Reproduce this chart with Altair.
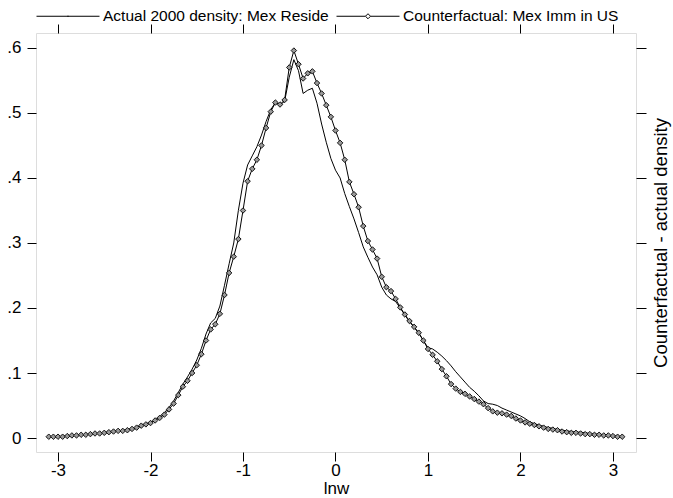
import altair as alt
import pandas as pd

# ---------------- data ----------------
lnw_grid = [
    -3.10, -3.05, -3.00, -2.95, -2.90, -2.85, -2.80, -2.75, -2.70, -2.65,
    -2.60, -2.55, -2.50, -2.45, -2.40, -2.35, -2.30, -2.25, -2.20, -2.15,
    -2.10, -2.05, -2.00, -1.95, -1.90, -1.85, -1.80, -1.75, -1.70, -1.65,
    -1.60, -1.55, -1.50, -1.45, -1.40, -1.35, -1.30, -1.25, -1.20, -1.15,
    -1.10, -1.05, -1.00, -0.95, -0.90, -0.85, -0.80, -0.75, -0.70, -0.65,
    -0.60, -0.55, -0.50, -0.45, -0.40, -0.35, -0.30, -0.25, -0.20, -0.15,
    -0.10, -0.05, 0.00, 0.05, 0.10, 0.15, 0.20, 0.25, 0.30, 0.35,
    0.40, 0.45, 0.50, 0.55, 0.60, 0.65, 0.70, 0.75, 0.80, 0.85,
    0.90, 0.95, 1.00, 1.05, 1.10, 1.15, 1.20, 1.25, 1.30, 1.35,
    1.40, 1.45, 1.50, 1.55, 1.60, 1.65, 1.70, 1.75, 1.80, 1.85,
    1.90, 1.95, 2.00, 2.05, 2.10, 2.15, 2.20, 2.25, 2.30, 2.35,
    2.40, 2.45, 2.50, 2.55, 2.60, 2.65, 2.70, 2.75, 2.80, 2.85,
    2.90, 2.95, 3.00, 3.05, 3.10,
]

actual_density = [
    0.002, 0.002, 0.002, 0.003, 0.003, 0.004, 0.004, 0.005, 0.005, 0.006,
    0.007, 0.007, 0.008, 0.009, 0.010, 0.011, 0.012, 0.013, 0.014, 0.016,
    0.019, 0.022, 0.024, 0.028, 0.033, 0.039, 0.047, 0.057, 0.070, 0.083,
    0.094, 0.106, 0.120, 0.138, 0.160, 0.177, 0.184, 0.203, 0.235, 0.268,
    0.300, 0.350, 0.392, 0.420, 0.434, 0.448, 0.466, 0.487, 0.505, 0.516,
    0.512, 0.518, 0.555, 0.582, 0.565, 0.530, 0.535, 0.538, 0.515, 0.483,
    0.455, 0.430, 0.412, 0.400, 0.376, 0.356, 0.337, 0.316, 0.294, 0.278,
    0.263, 0.251, 0.232, 0.220, 0.214, 0.210, 0.200, 0.189, 0.179, 0.170,
    0.161, 0.150, 0.139, 0.137, 0.132, 0.126, 0.119, 0.111, 0.102, 0.094,
    0.086, 0.078, 0.072, 0.065, 0.057, 0.053, 0.052, 0.050, 0.046, 0.043,
    0.040, 0.037, 0.034, 0.030, 0.025, 0.022, 0.020, 0.018, 0.016, 0.015,
    0.013, 0.012, 0.011, 0.010, 0.009, 0.009, 0.008, 0.007, 0.006, 0.006,
    0.005, 0.004, 0.003, 0.003, 0.002,
]

counterfactual_density = [
    0.002, 0.002, 0.002, 0.002, 0.003, 0.004, 0.004, 0.005, 0.005, 0.006,
    0.007, 0.007, 0.008, 0.009, 0.010, 0.011, 0.011, 0.012, 0.014, 0.016,
    0.019, 0.021, 0.023, 0.027, 0.031, 0.036, 0.044, 0.053, 0.066, 0.079,
    0.088, 0.100, 0.112, 0.129, 0.150, 0.167, 0.175, 0.191, 0.220, 0.254,
    0.279, 0.306, 0.350, 0.395, 0.414, 0.428, 0.450, 0.477, 0.502, 0.516,
    0.513, 0.520, 0.570, 0.596, 0.575, 0.553, 0.561, 0.564, 0.546, 0.530,
    0.512, 0.494, 0.473, 0.454, 0.428, 0.394, 0.375, 0.355, 0.326, 0.303,
    0.290, 0.276, 0.248, 0.232, 0.226, 0.214, 0.201, 0.190, 0.180, 0.171,
    0.162, 0.150, 0.137, 0.128, 0.118, 0.106, 0.095, 0.083, 0.076, 0.071,
    0.068, 0.064, 0.060, 0.056, 0.052, 0.046, 0.041, 0.039, 0.038, 0.036,
    0.034, 0.030, 0.027, 0.024, 0.022, 0.020, 0.018, 0.016, 0.014, 0.013,
    0.012, 0.010, 0.009, 0.008, 0.008, 0.007, 0.006, 0.006, 0.005, 0.005,
    0.004, 0.004, 0.003, 0.002, 0.002,
]

series_names = ["Actual 2000 density: Mex Reside", "Counterfactual: Mex Imm in US"]
x_ticks = [-3, -2, -1, 0, 1, 2, 3]
y_ticks = [0, 0.1, 0.2, 0.3, 0.4, 0.5, 0.6]

n = len(lnw_grid)
df = pd.DataFrame({
    "lnw": lnw_grid + lnw_grid,
    "density": actual_density + counterfactual_density,
    "series": [series_names[0]] * n + [series_names[1]] * n,
})
cf_df = pd.DataFrame({"lnw": lnw_grid, "density": counterfactual_density})

FONT = "Liberation Sans"
xs = alt.Scale(domain=[-3.238, 3.249], nice=False, zero=False)
ys = alt.Scale(domain=[-0.0215, 0.623], nice=False, zero=False)

# ---------------- layers ----------------
lines = alt.Chart(df).mark_line(color="black", strokeWidth=1).encode(
    x=alt.X("lnw:Q", scale=xs, axis=alt.Axis(
        orient="bottom", values=x_ticks, labelExpr="toString(datum.value)",
        tickSize=9, domain=False, grid=False, labelPadding=1,
        labelFontSize=17, labelFont=FONT, labelColor="black", tickColor="black",
        title="lnw", titleFont=FONT, titleFontSize=17, titleFontWeight="normal",
        titleColor="black", titleX=300, titleY=36, titleAlign="center",
        titleBaseline="middle")),
    y=alt.Y("density:Q", scale=ys, axis=alt.Axis(
        orient="left", values=y_ticks,
        labelExpr="datum.value == 0 ? '0' : '.' + toString(round(datum.value * 10))",
        tickSize=9, domain=False, grid=False, labelPadding=6,
        labelFontSize=17, labelFont=FONT, labelColor="black", tickColor="black",
        title=None)),
    detail="series:N",
)

points = alt.Chart(cf_df).mark_point(
    shape="diamond", filled=True, fill="#9a9a9a", stroke="black",
    strokeWidth=0.9, size=30, opacity=1,
).encode(
    x=alt.X("lnw:Q", scale=xs, axis=alt.Axis(
        orient="top", values=x_ticks, labels=False, tickSize=9, domain=False,
        grid=False, tickColor="black", title=None)),
    y=alt.Y("density:Q", scale=ys, axis=alt.Axis(
        orient="right", values=y_ticks, labels=False, tickSize=10, domain=False,
        grid=False, tickColor="black",
        title="Counterfactual - actual density", titleFont=FONT,
        titleFontSize=18.5, titleFontWeight="normal", titleColor="black",
        titleAngle=270, titleX=24, titleY=209.5, titleAlign="center",
        titleBaseline="middle")),
)

path_actual = "M-1,0L1,0M-0.02,0L0.02,0"
path_cf = "M-1,0L-0.08,0M0.08,0L1,0M0,-0.08L0.08,0L0,0.08L-0.08,0Z"

legend_layer = alt.Chart(df).mark_point(
    opacity=0, filled=False, color="black", strokeWidth=1,
).encode(
    x=alt.X("lnw:Q", scale=xs, axis=None),
    y=alt.Y("density:Q", scale=ys, axis=None),
    size=alt.value(3969),
    shape=alt.Shape("series:N", scale=alt.Scale(domain=series_names,
                                                 range=[path_actual, path_cf]),
                    legend=alt.Legend(
                        orient="none", legendX=0, legendY=-49,
                        direction="horizontal", title=None, padding=0,
                        labelFont=FONT, labelFontSize=15.5, labelColor="black",
                        labelOffset=3, columnPadding=5, symbolSize=3969,
                        labelLimit=0, symbolStrokeWidth=1,
                        symbolStrokeColor="black")),
)

chart = alt.layer(lines, points, legend_layer).resolve_axis(
    x="independent", y="independent"
).properties(
    width=600, height=419,
    autosize=alt.AutoSizeParams(type="none"),
    padding={"left": 36, "top": 33, "right": 37, "bottom": 46},
).configure_view(
    stroke="black", strokeWidth=1
).configure(background="white")

chart.save("out.html", embed_options={"renderer": "svg", "actions": False})
